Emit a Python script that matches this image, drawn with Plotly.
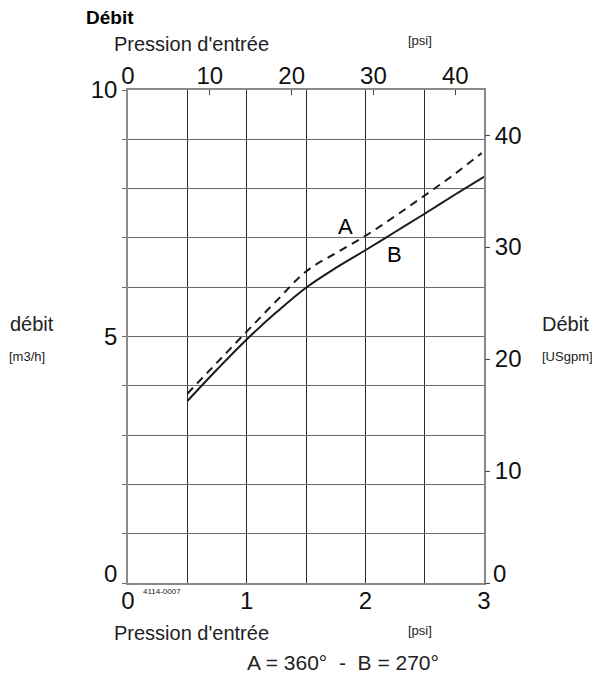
import plotly.graph_objects as go

# ---- data (bar / m3/h) ----
pressure_B = [0.5, 0.75, 1.0, 1.25, 1.5, 1.75, 2.0, 2.25, 2.5, 2.75, 3.0]
flow_B = [3.69, 4.33, 4.94, 5.49, 5.99, 6.39, 6.75, 7.12, 7.49, 7.87, 8.24]
pressure_A = [0.5, 0.75, 1.0, 1.25, 1.5, 1.75, 2.0, 2.25, 2.5, 2.75, 2.98]
flow_A = [3.84, 4.47, 5.10, 5.72, 6.32, 6.69, 7.04, 7.44, 7.86, 8.29, 8.72]

bar_ticks = [0, 0.5, 1, 1.5, 2, 2.5, 3]
bar_labels = ["0", "", "1", "", "2", "", "3"]
psi_ticks = [0, 10, 20, 30, 40]
m3h_ticks = [0, 1, 2, 3, 4, 5, 6, 7, 8, 9, 10]
m3h_labels = ["0", "", "", "", "", "5", "", "", "", "", "10"]
gpm_ticks = [0, 10, 20, 30, 40]
gpm_labels = ["0", "10", "20", "30", "40"]

PSI_PER_BAR = 14.5038
GPM_PER_M3H = 4.40287

OFF = 8  # page body margin
W, H = 600 - OFF, 677 - OFF
L, R, T, B = 128 - OFF, 484 - OFF, 90 - OFF, 583 - OFF
FONT = "Liberation Sans, Arial, sans-serif"


def px(x):
    return (x - OFF - L) / (R - L)


def py(y):
    return (B - (y - OFF)) / (B - T)


fig = go.Figure()
fig.add_trace(go.Scatter(x=pressure_A, y=flow_A, mode="lines", line_shape="spline",
                         line=dict(color="#1a1a1a", width=2, dash="8px,6px"),
                         showlegend=False, hoverinfo="skip"))
fig.add_trace(go.Scatter(x=pressure_B, y=flow_B, mode="lines", line_shape="spline",
                         line=dict(color="#1a1a1a", width=2),
                         showlegend=False, hoverinfo="skip"))
# same curve in psi / USgpm to carry the secondary axes
fig.add_trace(go.Scatter(x=[p * PSI_PER_BAR for p in pressure_B],
                         y=[f * GPM_PER_M3H for f in flow_B],
                         xaxis="x2", yaxis="y2", mode="lines",
                         line=dict(color="rgba(0,0,0,0)", width=0),
                         showlegend=False, hoverinfo="skip"))

ann = []


def text(t, x, y, size, color="#222", bold=False, xanchor="center"):
    ann.append(dict(text=("<b>%s</b>" % t) if bold else t, x=px(x), y=py(y), xref="paper", yref="paper",
                    showarrow=False, xanchor=xanchor, yanchor="middle",
                    font=dict(family=FONT, size=size, color=color)))


text("Débit", 84, 17, 19, color="#000", bold=True, xanchor="left")
text("Pression d'entrée", 112, 44, 20, xanchor="left")
text("[psi]", 406, 41, 13, xanchor="left")
text("débit", 8, 324, 20, xanchor="left")
text("[m3/h]", 7, 356, 13, xanchor="left")
text("Débit", 540, 324, 20, xanchor="left")
text("[USgpm]", 540, 356, 13, xanchor="left")
text("4114-0007", 162, 591, 8)
text("Pression d'entrée", 112, 633, 20, xanchor="left")
text("[psi]", 406, 630, 13, xanchor="left")
text("A = 360°  -  B = 270°", 343, 662, 21)
text("A", 345, 227, 22, color="#000")
text("B", 394, 254, 22, color="#000")
# zero labels of the two vertical scales sit a little above the baseline
text(m3h_labels[0], 119, 573, 24, color="#111", xanchor="right")
text(gpm_labels[0], 491, 573, 24, color="#111", xanchor="left")

tickfont = dict(family=FONT, size=24, color="#111")

fig.update_layout(
    width=W, height=H,
    margin=dict(l=L, r=W - R, t=T, b=H - B, pad=0),
    paper_bgcolor="white", plot_bgcolor="white",
    annotations=ann,
    xaxis=dict(range=[0, 3], tickvals=bar_ticks, ticktext=bar_labels, showgrid=True,
               gridcolor="#2a2a2a", gridwidth=1, zeroline=False, showline=True,
               linecolor="#8a8a8a", linewidth=1.5, mirror=True, ticks="",
               tickfont=tickfont, ticklabelstandoff=-5, fixedrange=True),
    yaxis=dict(range=[0, 10], tickvals=m3h_ticks, ticktext=[""] + m3h_labels[1:], showgrid=True,
               gridcolor="#6a6a6a", gridwidth=1, zeroline=False, showline=True,
               linecolor="#8a8a8a", linewidth=1.5, mirror=True, ticks="outside",
               ticklen=4, tickcolor="#6a6a6a", tickfont=tickfont, fixedrange=True),
    xaxis2=dict(overlaying="x", side="top", range=[0, 3 * PSI_PER_BAR], tickvals=psi_ticks,
                showgrid=False, zeroline=False, showline=False, ticks="inside",
                ticklen=5, tickcolor="#444", tickfont=tickfont, ticklabelstandoff=0,
                fixedrange=True),
    yaxis2=dict(overlaying="y", side="right", range=[0, 10 * GPM_PER_M3H], tickvals=gpm_ticks,
                ticktext=[""] + gpm_labels[1:],
                showgrid=False, zeroline=False, showline=False, ticks="outside",
                ticklen=5, tickcolor="#444", tickfont=tickfont, ticklabelstandoff=0,
                fixedrange=True),
)

fig.write_html("out.html")
